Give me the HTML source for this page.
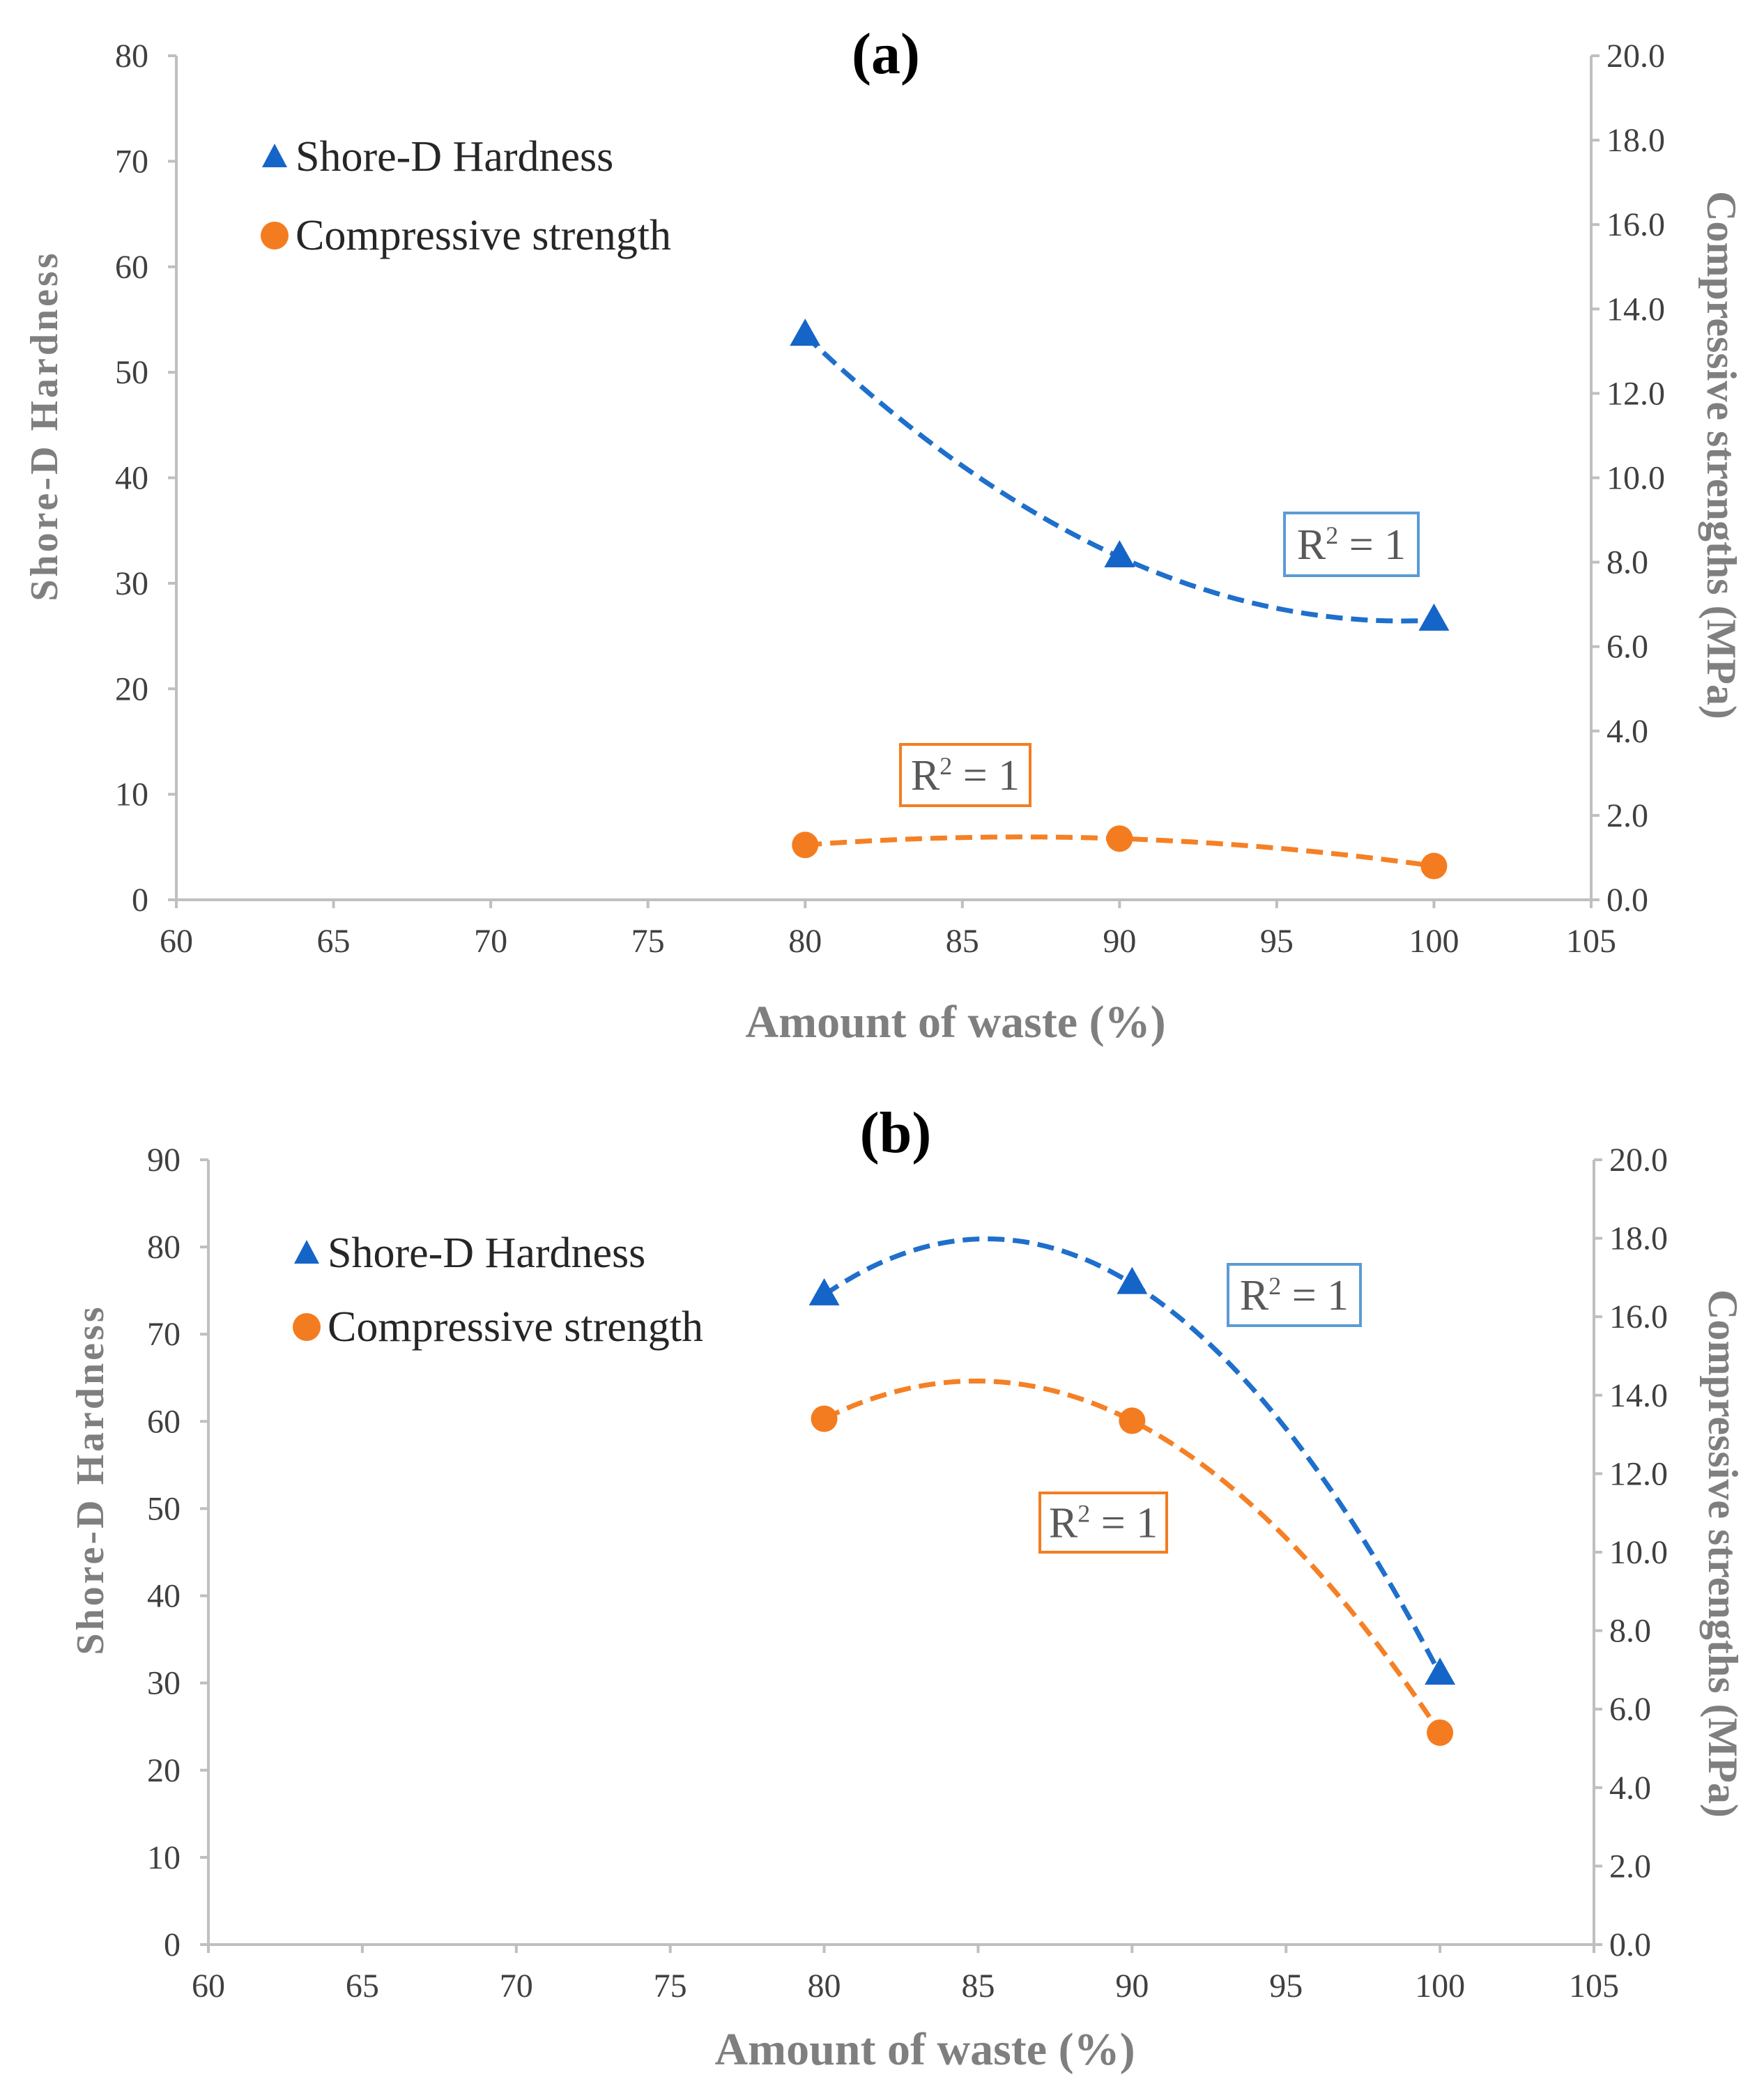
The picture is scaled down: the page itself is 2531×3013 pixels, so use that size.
<!DOCTYPE html>
<html><head><meta charset="utf-8">
<style>
html,body{margin:0;padding:0;background:#fff;}
svg{display:block;}
text{font-family:"Liberation Serif",serif;}
</style></head>
<body>
<svg id="fig" width="2531" height="3013" viewBox="0 0 2531 3013" xmlns="http://www.w3.org/2000/svg"></svg>
<script>
// ---- Chart (a) data ----
const xTicks = [60,65,70,75,80,85,90,95,100,105];
const aCategories = [80,90,100];
const aHardness = [53.5,32.5,26.5];
const aStrength = [1.3,1.45,0.8];
const aLeftTicks = [0,10,20,30,40,50,60,70,80];
const aRightTicks = ["0.0","2.0","4.0","6.0","8.0","10.0","12.0","14.0","16.0","18.0","20.0"];
// ---- Chart (b) data ----
const bCategories = [80,90,100];
const bHardness = [74.5,75.8,31];
const bStrength = [13.4,13.35,5.4];
const bLeftTicks = [0,10,20,30,40,50,60,70,80,90];
const bRightTicks = ["0.0","2.0","4.0","6.0","8.0","10.0","12.0","14.0","16.0","18.0","20.0"];

const NS="http://www.w3.org/2000/svg";
const svg=document.getElementById('fig');
function mk(tag,attrs,parent){const e=document.createElementNS(NS,tag);for(const k in attrs)e.setAttribute(k,attrs[k]);(parent||svg).appendChild(e);return e;}

function quad(xs,ys,x){let s=0;for(let i=0;i<3;i++){let p=ys[i];for(let j=0;j<3;j++)if(j!==i)p*=(x-xs[j])/(xs[i]-xs[j]);s+=p;}return s;}

function chart(cfg){
  const g=mk('g',{});
  
  
  const X=v=>cfg.L+(v-60)/(105-60)*(cfg.R-cfg.L);
  const YL=v=>cfg.B-v/cfg.lmax*(cfg.B-cfg.T);
  const YR=v=>cfg.B-v/20*(cfg.B-cfg.T);
  const ax='#bfbfbf', tc='#404040';
  let e=mk('line',{x1:cfg.L,y1:cfg.T,x2:cfg.L,y2:cfg.B,stroke:ax,'stroke-width':4},g);
  
  e=mk('line',{x1:cfg.R,y1:cfg.T,x2:cfg.R,y2:cfg.B,stroke:ax,'stroke-width':4},g);
  
  e=mk('line',{x1:cfg.L-12,y1:cfg.B,x2:cfg.R,y2:cfg.B,stroke:ax,'stroke-width':4},g);
  
  xTicks.forEach(v=>{
    mk('line',{x1:X(v),y1:cfg.B,x2:X(v),y2:cfg.B+12,stroke:ax,'stroke-width':4},g);
    const t=mk('text',{x:X(v),y:cfg.B+75,'text-anchor':'middle','font-size':48,fill:tc},g);
    t.textContent=v;
    
    
  });
  cfg.lt.forEach(v=>{
    mk('line',{x1:cfg.L-12,y1:YL(v),x2:cfg.L,y2:YL(v),stroke:ax,'stroke-width':4},g);
    const t=mk('text',{x:cfg.L-40,y:YL(v)+16,'text-anchor':'end','font-size':48,fill:tc},g);
    t.textContent=v;
    
    
  });
  cfg.rt.forEach(v=>{
    const y=YR(parseFloat(v));
    mk('line',{x1:cfg.R,y1:y,x2:cfg.R+12,y2:y,stroke:ax,'stroke-width':4},g);
    const t=mk('text',{x:cfg.R+22,y:y+16,'text-anchor':'start','font-size':48,fill:tc},g);
    t.textContent=v;
    
    
  });
  let t=mk('text',{x:cfg.titleX,y:cfg.titleY,'text-anchor':'middle','font-size':84,'font-weight':'bold',fill:'#000'},g);
  t.textContent=cfg.label;
  t=mk('text',{x:cfg.xtX,y:cfg.xtY,'text-anchor':'middle','font-size':66,'font-weight':'bold',fill:'#7f7f7f'},g);
  t.textContent='Amount of waste (%)';
  t=mk('text',{x:0,y:0,'text-anchor':'middle','font-size':56,'font-weight':'bold',fill:'#7f7f7f','letter-spacing':4,transform:`translate(${cfg.ltX},${cfg.ltY}) rotate(-90)`},g);
  t.textContent='Shore-D Hardness';
  t=mk('text',{x:0,y:0,'text-anchor':'middle','font-size':60,'font-weight':'bold',fill:'#7f7f7f',transform:`translate(${cfg.rtX},${cfg.rtY}) rotate(90)`},g);
  t.textContent='Compressive strengths (MPa)';
  function trend(ys,Y,color,name){
    let d='';
    for(let i=0;i<=80;i++){const xv=cfg.cats[0]+(cfg.cats[2]-cfg.cats[0])*i/80;d+=(i?'L':'M')+X(xv).toFixed(1)+','+Y(quad(cfg.cats,ys,xv)).toFixed(1);}
    const p=mk('path',{d:d,fill:'none',stroke:color,'stroke-width':7,'stroke-dasharray':'24 12'},g);
    
    
  }
  trend(cfg.hard,YL,'#1f6fcc','hardness-trendline');
  trend(cfg.str,YR,'#f58025','strength-trendline');
  cfg.cats.forEach((c,i)=>{
    const x=X(c),y=YL(cfg.hard[i]);
    const p=mk('polygon',{points:`${x},${y-24} ${x-22},${y+15} ${x+22},${y+15}`,fill:'#1565c8'},g);
    
    
    const y2=YR(cfg.str[i]);
    const c2=mk('circle',{cx:x,cy:y2,r:19,fill:'#f47c20'},g);
    
    
  });
  const lx=cfg.legX, ly=cfg.legY;
  let m=mk('polygon',{points:`${lx},${ly-19} ${lx-18},${ly+15} ${lx+18},${ly+15}`,fill:'#1565c8'},g);
  
  t=mk('text',{x:lx+30,y:ly+20,'font-size':62,fill:'#262626'},g);
  t.textContent='Shore-D Hardness';
  m=mk('circle',{cx:lx,cy:ly+cfg.legGap,r:20,fill:'#f47c20'},g);
  
  t=mk('text',{x:lx+30,y:ly+cfg.legGap+20,'font-size':62,fill:'#262626'},g);
  t.textContent='Compressive strength';
  function box(b,color,name){
    const r=mk('rect',{x:b[0],y:b[1],width:b[2],height:b[3],fill:'#fff',stroke:color,'stroke-width':4},g);
    
    const tt=mk('text',{x:b[0]+b[2]/2,y:b[1]+b[3]/2+21,'text-anchor':'middle','font-size':62,fill:'#595959'},g);
    tt.innerHTML='R<tspan font-size="36" dy="-22">2</tspan><tspan dy="22"> = 1</tspan>';
    
  }
  box(cfg.bb,'#5b9bd5','hardness-r2');
  box(cfg.ob,'#f47c20','strength-r2');
}

chart({name:'chart-a',label:'(a)',L:253,R:2283,T:80,B:1291,lmax:80,lt:aLeftTicks,rt:aRightTicks,
  cats:aCategories,hard:aHardness,str:aStrength,
  titleX:1271,titleY:105,xtX:1371,xtY:1488,ltX:82,ltY:611,rtX:2450,rtY:653,
  legX:394,legY:225,legGap:113,bb:[1843,736,192,90],ob:[1292,1068,186,88]});
chart({name:'chart-b',label:'(b)',L:299,R:2287,T:1664,B:2790,lmax:90,lt:bLeftTicks,rt:bRightTicks,
  cats:bCategories,hard:bHardness,str:bStrength,
  titleX:1285,titleY:1653,xtX:1327,xtY:2962,ltX:148,ltY:2123,rtX:2452,rtY:2229,
  legX:440,legY:1798,legGap:106,bb:[1762,1814,190,88],ob:[1492,2142,182,85]});
</script>
</body></html>
